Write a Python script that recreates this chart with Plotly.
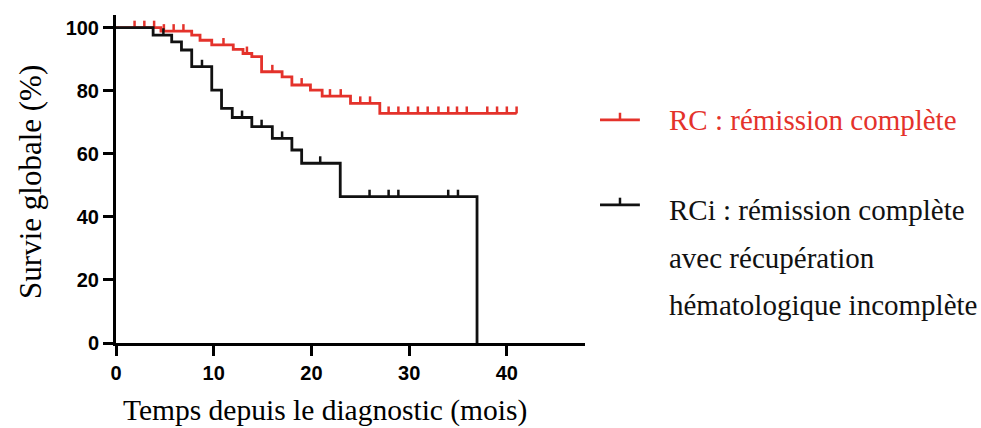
import plotly.graph_objects as go

# ---------------- data ----------------
rc_time = [0, 4.6, 7.75, 8.6, 9.8, 12.0, 13.0, 13.9, 14.9, 17.0, 18.0, 19.9, 21.1, 24.0, 27.0, 41.0]
rc_surv = [100, 98.9, 97.6, 96.0, 94.5, 93.1, 91.8, 90.8, 86.0, 84.4, 81.8, 80.2, 78.3, 76.0, 72.8, 72.8]
rc_censor = [1.9, 2.9, 3.9, 4.9, 5.9, 6.9, 11.0, 13.4, 16.0, 19.0, 21.9, 23.0, 25.0, 26.0,
             27.9, 28.9, 29.9, 30.9, 31.9, 33.0, 34.0, 34.9, 35.9, 38.0, 39.0, 40.0, 41.0]

rci_time = [0, 3.8, 5.7, 6.7, 7.75, 9.8, 10.8, 11.9, 13.9, 16.0, 18.0, 19.0, 22.95, 36.95]
rci_surv = [100, 97.6, 95.5, 92.9, 87.6, 80.2, 74.4, 71.5, 68.6, 64.9, 61.2, 57.0, 46.4, 0]
rci_censor = [4.85, 8.8, 12.9, 14.9, 17.0, 20.9, 25.95, 27.9, 28.9, 34.0, 35.0]

x_ticks = [0, 10, 20, 30, 40]
y_ticks = [0, 20, 40, 60, 80, 100]

rc_name = "RC : rémission complète"
rci_lines = ["RCi : rémission complète", "avec récupération", "hématologique incomplète"]
x_title = "Temps depuis le diagnostic (mois)"
y_title = "Survie globale (%)"

RED = "#e4322b"
BLACK = "#111111"
LW = 2.8
TICK = 2.2  # censor tick height in % units


def step_value(times, surv, t):
    v = surv[0]
    for ti, si in zip(times, surv):
        if ti <= t:
            v = si
    return v


fig = go.Figure()

for times, surv, cens, col, name in [
    (rc_time, rc_surv, rc_censor, RED, rc_name),
    (rci_time, rci_surv, rci_censor, BLACK, rci_lines[0]),
]:
    fig.add_trace(go.Scatter(x=times, y=surv, mode="lines", line=dict(color=col, width=LW, shape="hv"),
                             name=name, showlegend=False, hoverinfo="skip"))
    cy = [step_value(times, surv, t) for t in cens]
    fig.add_trace(go.Scatter(
        x=cens, y=cy, mode="markers", marker=dict(size=1, color=col), showlegend=False, hoverinfo="skip",
        error_y=dict(type="data", symmetric=False, array=[TICK] * len(cens), arrayminus=[0] * len(cens),
                     width=0, thickness=2.5, color=col)))

axis_common = dict(showline=True, linecolor="black", linewidth=3, ticks="outside", tickwidth=3,
                   ticklen=10, tickcolor="black", showgrid=False, zeroline=False,
                   tickfont=dict(family="Liberation Sans", size=20, color="black", weight="bold"))

fig.update_xaxes(range=[0, 48], tickvals=x_ticks, **axis_common)
fig.update_yaxes(range=[0, 104], tickvals=y_ticks, **axis_common)

SERIF = "Liberation Serif, Times New Roman, serif"

fig.add_annotation(text=x_title, xref="paper", yref="paper", x=0.4446, y=-0.205,
                   showarrow=False, font=dict(family=SERIF, size=29.5, color="black"),
                   xanchor="center", yanchor="middle")
fig.add_annotation(text=y_title, xref="paper", yref="paper", x=-0.182, y=0.49, textangle=-90,
                   showarrow=False, font=dict(family=SERIF, size=31, color="black"),
                   xanchor="center", yanchor="middle")

# custom legend
leg_x0, leg_x1, leg_tick, leg_text = 1.032, 1.117, 1.0746, 1.1748
for col, ysym, lines, ytexts in [
    (RED, 0.680, [rc_name], [0.680]),
    (BLACK, 0.421, rci_lines, [0.4055, 0.259, 0.116]),
]:
    fig.add_shape(type="line", xref="paper", yref="paper", x0=leg_x0, x1=leg_x1, y0=ysym, y1=ysym,
                  line=dict(color=col, width=LW))
    fig.add_shape(type="line", xref="paper", yref="paper", x0=leg_tick, x1=leg_tick, y0=ysym, y1=ysym + 0.022,
                  line=dict(color=col, width=2.5))
    for txt, yt in zip(lines, ytexts):
        fig.add_annotation(text=txt, xref="paper", yref="paper", x=leg_text, y=yt, showarrow=False,
                           xanchor="left", yanchor="middle", font=dict(family=SERIF, size=29, color=col))

fig.update_layout(width=981, height=428, margin=dict(l=116, r=396, t=15, b=85),
                  plot_bgcolor="white", paper_bgcolor="white", showlegend=False)

fig.write_html("out.html", config={"displayModeBar": False},
               post_script="document.body.style.margin='0';document.body.style.overflow='hidden';")
